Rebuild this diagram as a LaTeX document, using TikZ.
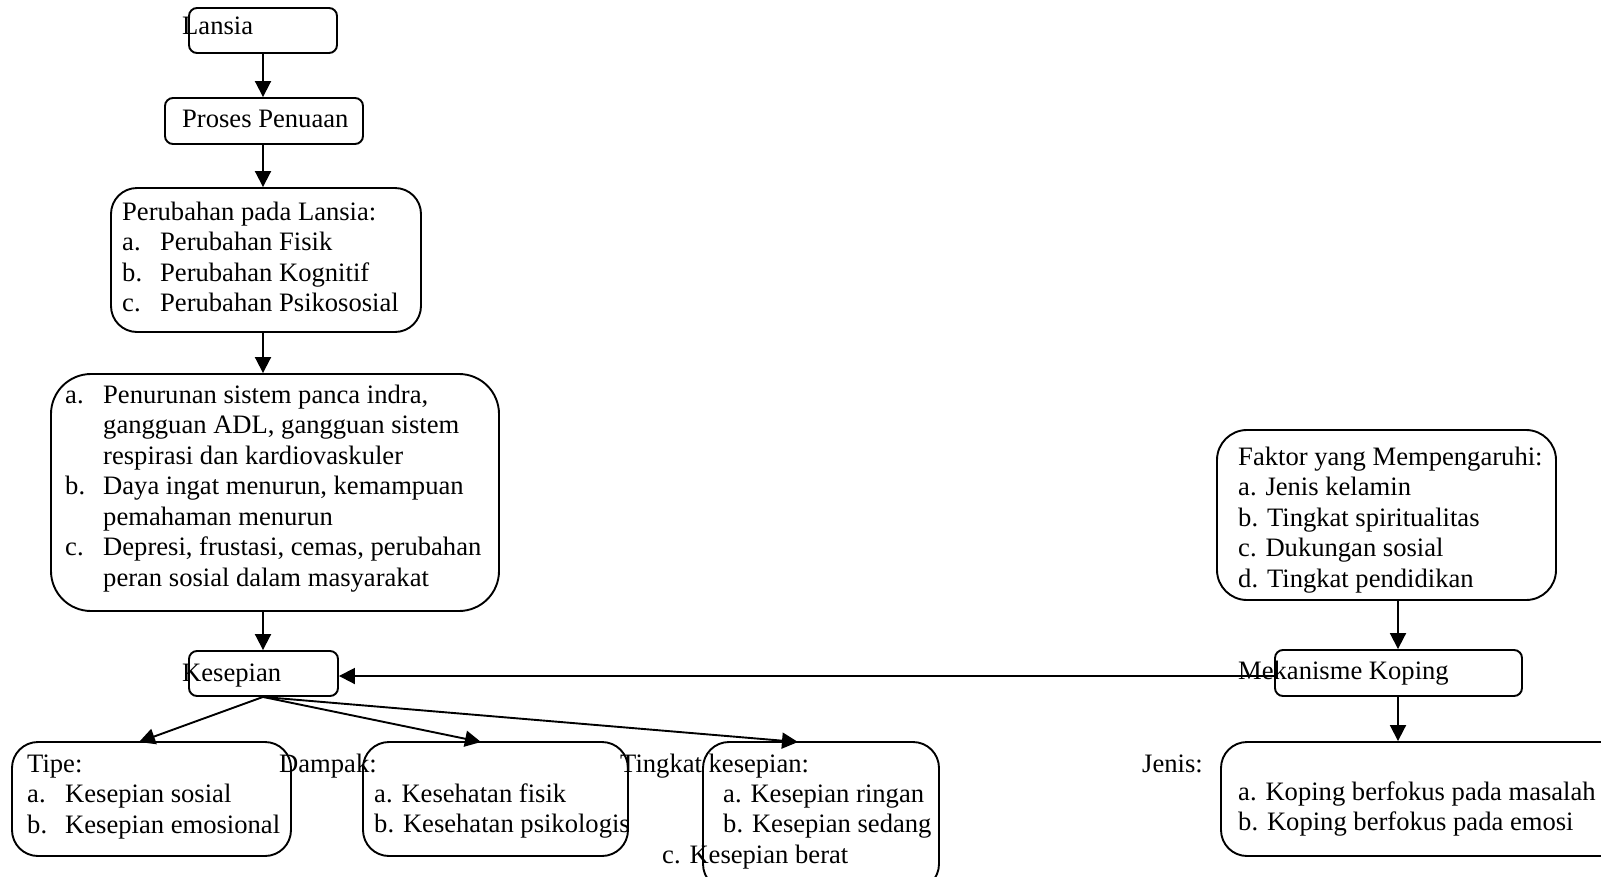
\documentclass[tikz,border=0pt]{standalone}
\usepackage{fontspec}
\setmainfont{Liberation Serif}
\usetikzlibrary{arrows.meta,fit}
\begin{document}
\begin{tikzpicture}[x=1pt,y=-1pt,
  box/.style={draw, line width=1.9pt, inner sep=0pt, rounded corners=8pt},
  rbox/.style={box, rounded corners=26pt},
  txt/.style={inner sep=0pt, anchor=base west, font=\fontsize{26.6}{30.5}\selectfont},
  arr/.style={line width=1.9pt, -{Triangle[length=16pt,width=16pt]}}]
\useasboundingbox (0,0) rectangle (1601,876);
\clip (0,0) rectangle (1601,876);
% boxes
\node[box, fit={(189,8) (337,53)}] (lansia) {};
\node[box, fit={(165,98) (363,144)}] (proses) {};
\node[rbox, fit={(111,188) (421,332)}] (perubahan) {};
\node[box, rounded corners=40pt, fit={(51,374) (499,611)}] (dampakfisik) {};
\node[box, fit={(189,651) (338,696)}] (kesepian) {};
\node[rbox, fit={(12,742) (291,856)}] (tipe) {};
\node[rbox, fit={(363,742) (628,856)}] (dampak) {};
\node[rbox, fit={(703,742) (939,890)}] (tingkat) {};
\node[box, rounded corners=30pt, fit={(1217,430) (1556,600)}] (faktor) {};
\node[box, fit={(1275,650) (1522,696)}] (mekanisme) {};
\node[rbox, fit={(1221,742) (1660,856)}] (jenis) {};
% texts
\node[txt] (tLansia) at (182,34) {Lansia};
\node[txt] (tProses) at (182,127) {Proses Penuaan};
\node[txt] (tPerubahan) at (122,220) {\begin{tabular}[t]{@{}p{38pt}@{}l@{}}
\multicolumn{2}{@{}l@{}}{Perubahan pada Lansia:}\\
a. & Perubahan Fisik\\
b. & Perubahan Kognitif\\
c. & Perubahan Psikososial
\end{tabular}};
\node[txt] (tBig) at (65,403) {\begin{tabular}[t]{@{}p{38pt}@{}l@{}}
a. & Penurunan sistem panca indra,\\
 & gangguan ADL, gangguan sistem\\
 & respirasi dan kardiovaskuler\\
b. & Daya ingat menurun, kemampuan\\
 & pemahaman menurun\\
c. & Depresi, frustasi, cemas, perubahan\\
 & peran sosial dalam masyarakat
\end{tabular}};
\node[txt] (tKesepian) at (182,681) {Kesepian};
\node[txt] (tTipe) at (27,772) {\begin{tabular}[t]{@{}p{38pt}@{}l@{}}
\multicolumn{2}{@{}l@{}}{Tipe:}\\
a. & Kesepian sosial\\
b. & Kesepian emosional
\end{tabular}};
\node[txt] (tDampakH) at (279,772) {Dampak:};
\node[txt] (tDampak) at (374,802) {\begin{tabular}[t]{@{}l@{}}
a. Kesehatan fisik\\
b. Kesehatan psikologis
\end{tabular}};
\node[txt] (tTingkatH) at (620,772) {Tingkat kesepian:};
\node[txt] (tTingkat) at (723,802) {\begin{tabular}[t]{@{}l@{}}
a. Kesepian ringan\\
b. Kesepian sedang
\end{tabular}};
\node[txt] (tTingkatC) at (662,863) {c. Kesepian berat};
\node[txt] (tFaktor) at (1238,465) {\begin{tabular}[t]{@{}l@{}}
Faktor yang Mempengaruhi:\\
a. Jenis kelamin\\
b. Tingkat spiritualitas\\
c. Dukungan sosial\\
d. Tingkat pendidikan
\end{tabular}};
\node[txt] (tMekanisme) at (1238,679) {Mekanisme Koping};
\node[txt] (tJenisH) at (1142,772) {Jenis:};
\node[txt] (tJenis) at (1238,800) {\begin{tabular}[t]{@{}l@{}}
a. Koping berfokus pada masalah\\
b. Koping berfokus pada emosi
\end{tabular}};
% connectors
\coordinate (axis) at (263,0);
\draw[arr] (lansia.south -| axis) -- (proses.north -| axis);
\draw[arr] (proses.south -| axis) -- (perubahan.north -| axis);
\draw[arr] (perubahan.south -| axis) -- (dampakfisik.north -| axis);
\draw[arr] (dampakfisik.south -| axis) -- (kesepian.north -| axis);
\coordinate (tipeIn) at (139,742);
\coordinate (dampakIn) at (481,742);
\coordinate (tingkatIn) at (798,742);
\draw[arr] (kesepian.south -| axis) -- (tipeIn);
\draw[arr] (kesepian.south -| axis) -- (dampakIn);
\draw[arr] (kesepian.south -| axis) -- (tingkatIn);
\coordinate (raxis) at (1398,0);
\draw[arr] (faktor.south -| raxis) -- (mekanisme.north -| raxis);
\draw[arr] (mekanisme.south -| raxis) -- (jenis.north -| raxis);
\coordinate (hl) at (0,676);
\draw[arr] (mekanisme.west |- hl) -- (kesepian.east |- hl);
\end{tikzpicture}
\end{document}
